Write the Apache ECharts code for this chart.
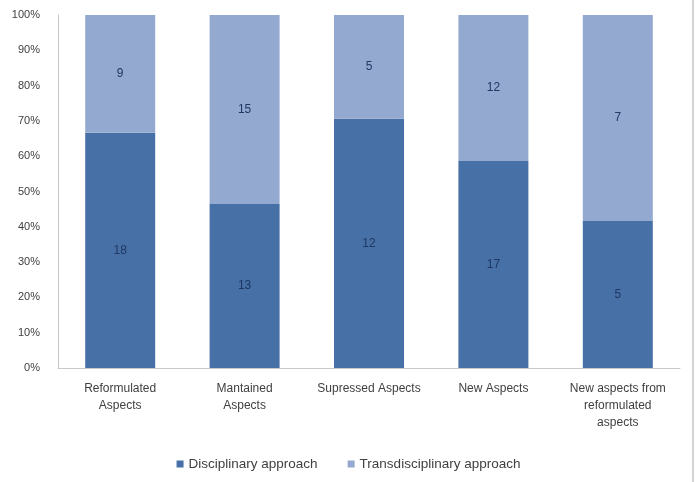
<!DOCTYPE html>
<html>
<head>
<meta charset="utf-8">
<script src="https://cdn.jsdelivr.net/npm/echarts@6/dist/echarts.min.js"></script>
<style>
  html, body { margin: 0; padding: 0; background: #fff; }
  #chart { width: 697px; height: 482px; }
</style>
</head>
<body>
<div id="chart"></div>
<script>
const categories = [
  'Reformulated\nAspects',
  'Mantained\nAspects',
  'Supressed Aspects',
  'New Aspects',
  'New aspects from\nreformulated\naspects'
]
const disciplinary = [18, 13, 12, 17, 5]
const transdisciplinary = [9, 15, 5, 12, 7]
const yTicks = [0, 10, 20, 30, 40, 50, 60, 70, 80, 90, 100]

const totals = disciplinary.map((v, i) => v + transdisciplinary[i])
const toShare = (arr) => arr.map((v, i) => ({ value: v / totals[i] * 100, count: v }))

const chart = echarts.init(document.getElementById('chart'))
const labelStyle = {
  show: true,
  position: 'inside',
  color: '#1f3864',
  fontFamily: 'Liberation Sans',
  fontSize: 12,
  formatter: p => p.data.count
}
chart.setOption({
  animation: false,
  textStyle: { fontFamily: 'Liberation Sans' },
  grid: { left: 58, right: 17, top: 15, bottom: 114 },
  // thin frame line on the right edge
  graphic: [{
    type: 'line',
    shape: { x1: 693, y1: 0, x2: 693, y2: 482 },
    style: { stroke: '#c4c4c4', lineWidth: 1.5 }
  }],
  legend: {
    top: 452,
    left: 'center',
    itemWidth: 7,
    itemHeight: 7,
    itemGap: 30,
    icon: 'rect',
    textStyle: { color: '#404040', fontSize: 13.5 },
    data: ['Disciplinary approach', 'Transdisciplinary approach']
  },
  xAxis: {
    type: 'category',
    data: categories,
    axisLine: { lineStyle: { color: '#c8c8c8' } },
    axisTick: { show: false },
    axisLabel: { color: '#404040', fontSize: 12, lineHeight: 17, margin: 12, interval: 0 }
  },
  yAxis: {
    type: 'value',
    min: 0,
    max: 100,
    interval: 10,
    axisLine: { show: true, lineStyle: { color: '#c8c8c8' } },
    axisTick: { show: false },
    splitLine: { show: false },
    axisLabel: {
      color: '#404040',
      fontSize: 11,
      margin: 18,
      formatter: v => yTicks.includes(v) ? v + '%' : ''
    }
  },
  series: [
    {
      name: 'Disciplinary approach',
      type: 'bar',
      stack: 'total',
      barWidth: 70,
      itemStyle: { color: '#4670a6' },
      label: labelStyle,
      data: toShare(disciplinary)
    },
    {
      name: 'Transdisciplinary approach',
      type: 'bar',
      stack: 'total',
      barWidth: 70,
      itemStyle: { color: '#94a9d0' },
      label: labelStyle,
      data: toShare(transdisciplinary)
    }
  ]
})
</script>
</body>
</html>
